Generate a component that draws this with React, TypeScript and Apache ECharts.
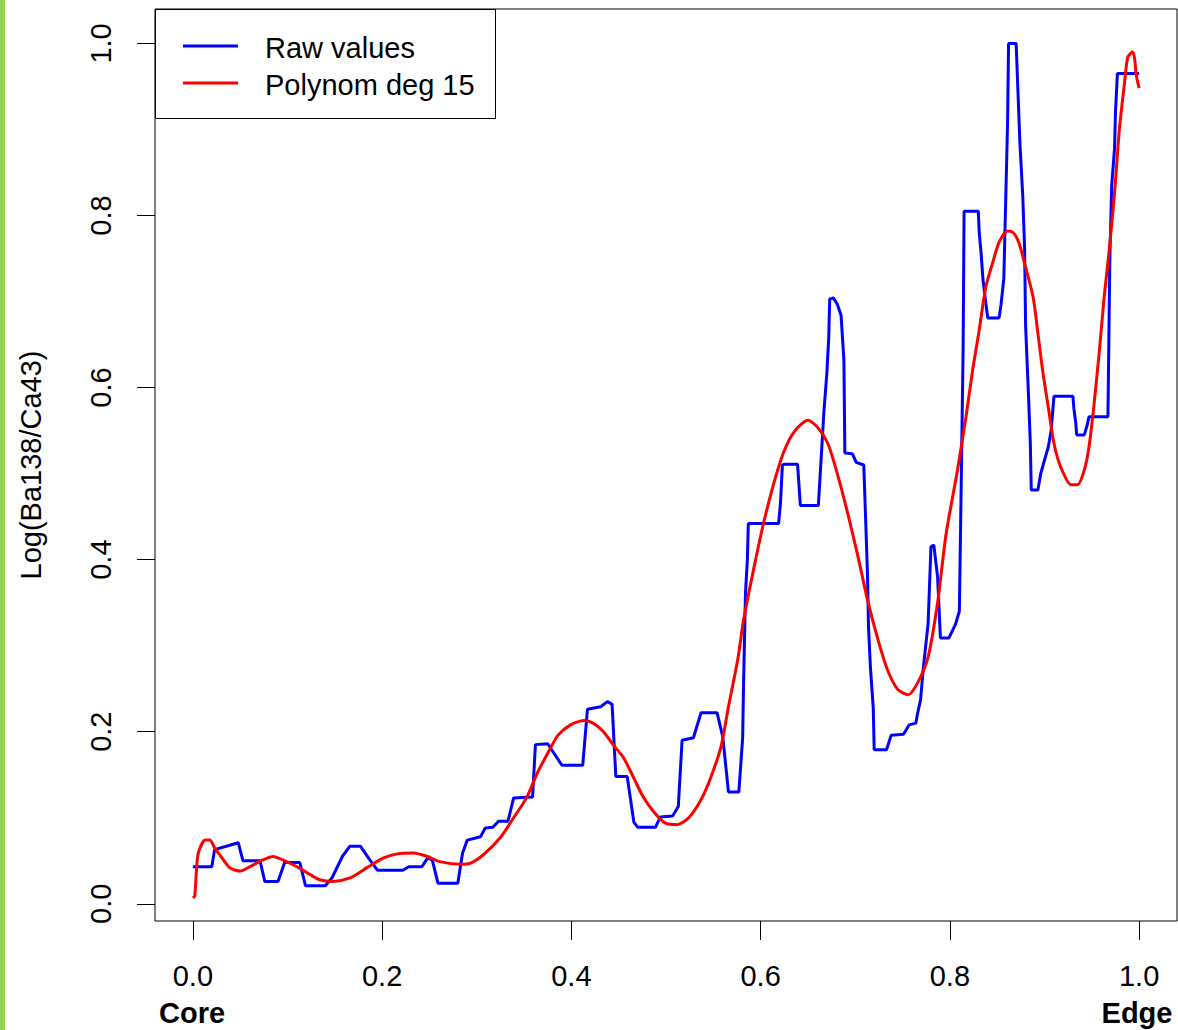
import React, { useEffect, useRef } from 'react';
import * as echarts from 'echarts';

const xTicks = [0, 0.2, 0.4, 0.6, 0.8, 1.0];
const yTicks = [0, 0.2, 0.4, 0.6, 0.8, 1.0];
const seriesNames = ['Raw values', 'Polynom deg 15'];
const xEndLabels = ['Core', 'Edge'];
const yAxisTitle = 'Log(Ba138/Ca43)';

const rawX = [0.000,0.020,0.023,0.039,0.048,0.053,0.071,0.076,0.090,0.097,0.113,0.119,0.140,0.147,0.158,0.166,0.177,0.187,0.195,0.222,0.228,0.242,0.248,0.253,0.259,0.280,0.285,0.290,0.304,0.309,0.317,0.323,0.333,0.339,0.359,0.362,0.375,0.390,0.412,0.417,0.431,0.438,0.443,0.447,0.459,0.466,0.470,0.489,0.494,0.507,0.513,0.517,0.529,0.537,0.554,0.560,0.566,0.577,0.581,0.582,0.584,0.586,0.587,0.619,0.621,0.623,0.626,0.639,0.642,0.661,0.663,0.667,0.670,0.672,0.673,0.677,0.681,0.685,0.688,0.689,0.697,0.701,0.709,0.711,0.713,0.714,0.716,0.719,0.720,0.733,0.738,0.751,0.757,0.764,0.766,0.769,0.772,0.777,0.780,0.783,0.787,0.790,0.799,0.806,0.810,0.812,0.814,0.815,0.830,0.831,0.833,0.835,0.838,0.840,0.852,0.854,0.857,0.859,0.861,0.862,0.870,0.872,0.874,0.877,0.879,0.880,0.883,0.885,0.886,0.893,0.896,0.899,0.904,0.907,0.910,0.930,0.931,0.933,0.934,0.942,0.945,0.947,0.967,0.968,0.969,0.971,0.974,0.975,0.977,1.000];
const rawY = [0.043,0.043,0.063,0.068,0.071,0.050,0.050,0.026,0.026,0.048,0.048,0.021,0.021,0.030,0.055,0.067,0.067,0.051,0.039,0.039,0.043,0.043,0.053,0.051,0.024,0.024,0.059,0.074,0.078,0.088,0.089,0.096,0.096,0.123,0.124,0.185,0.186,0.161,0.161,0.226,0.229,0.235,0.232,0.148,0.148,0.095,0.089,0.089,0.101,0.102,0.113,0.190,0.193,0.222,0.222,0.194,0.130,0.130,0.193,0.257,0.361,0.400,0.442,0.442,0.466,0.510,0.511,0.511,0.463,0.463,0.500,0.574,0.617,0.659,0.703,0.704,0.697,0.684,0.632,0.524,0.523,0.513,0.510,0.446,0.380,0.322,0.275,0.228,0.179,0.179,0.196,0.197,0.208,0.210,0.222,0.237,0.275,0.326,0.415,0.417,0.380,0.309,0.309,0.325,0.340,0.490,0.647,0.805,0.805,0.780,0.756,0.725,0.698,0.681,0.681,0.696,0.727,0.818,0.910,1.000,1.000,0.942,0.884,0.823,0.760,0.672,0.593,0.535,0.481,0.481,0.500,0.512,0.531,0.550,0.590,0.590,0.576,0.559,0.545,0.545,0.556,0.566,0.566,0.655,0.748,0.835,0.878,0.920,0.965,0.965];

const polyX = [0.000,0.002,0.004,0.006,0.013,0.018,0.023,0.031,0.039,0.050,0.060,0.074,0.085,0.095,0.110,0.124,0.134,0.148,0.166,0.184,0.201,0.216,0.233,0.248,0.261,0.283,0.293,0.307,0.325,0.339,0.353,0.364,0.375,0.386,0.399,0.413,0.423,0.434,0.444,0.455,0.466,0.476,0.487,0.499,0.512,0.524,0.537,0.547,0.558,0.566,0.576,0.582,0.593,0.603,0.614,0.624,0.635,0.650,0.660,0.671,0.681,0.692,0.703,0.713,0.724,0.734,0.745,0.756,0.766,0.777,0.787,0.796,0.808,0.817,0.824,0.831,0.838,0.846,0.852,0.861,0.867,0.873,0.880,0.888,0.893,0.898,0.904,0.910,0.917,0.928,0.935,0.942,0.947,0.952,0.958,0.963,0.968,0.974,0.979,0.984,0.988,0.993,0.995,0.997,1.000];
const polyY = [0.007,0.009,0.043,0.060,0.074,0.074,0.065,0.053,0.042,0.038,0.043,0.051,0.055,0.051,0.043,0.034,0.028,0.026,0.030,0.042,0.053,0.058,0.059,0.055,0.049,0.046,0.047,0.057,0.077,0.100,0.124,0.152,0.175,0.196,0.208,0.213,0.210,0.200,0.185,0.170,0.146,0.124,0.107,0.094,0.092,0.100,0.121,0.146,0.182,0.229,0.285,0.330,0.391,0.442,0.489,0.524,0.548,0.562,0.554,0.535,0.500,0.454,0.403,0.353,0.307,0.272,0.249,0.243,0.257,0.287,0.350,0.430,0.504,0.566,0.620,0.667,0.717,0.748,0.769,0.782,0.780,0.768,0.740,0.705,0.663,0.620,0.577,0.535,0.508,0.487,0.487,0.504,0.531,0.577,0.643,0.705,0.756,0.826,0.899,0.949,0.984,0.990,0.984,0.963,0.948];

const FONT = '"Liberation Sans", Arial, sans-serif';

export default function App() {
  const ref = useRef<HTMLDivElement>(null);
  useEffect(() => {
    const chart = echarts.init(ref.current as HTMLDivElement, null, { renderer: 'svg' });
    const rawData = rawX.map((x, i) => [x, rawY[i]]);
    const polyData = polyX.map((x, i) => [x, polyY[i]]);
    chart.setOption({
      animation: false,
      backgroundColor: '#ffffff',
      grid: {
        left: 155, top: 9, width: 1022, height: 912,
        show: true, borderColor: '#000', borderWidth: 1, backgroundColor: 'transparent',
        outerBoundsMode: 'none', containLabel: false,
      },
      xAxis: {
        type: 'value', min: -0.04, max: 1.04,
        axisLine: { show: false, onZero: false },
        splitLine: { show: false },
        axisTick: { show: true, customValues: xTicks, length: 19, lineStyle: { color: '#000', width: 1 } },
        axisLabel: {
          customValues: xTicks, formatter: (v: number) => v.toFixed(1),
          fontSize: 29, color: '#000', margin: 40, fontFamily: FONT,
        },
      },
      yAxis: {
        type: 'value', min: -0.02, max: 1.04,
        name: yAxisTitle, nameLocation: 'middle', nameRotate: 90, nameGap: 110,
        nameTextStyle: { fontSize: 29, color: '#000', fontFamily: FONT },
        axisLine: { show: false, onZero: false },
        splitLine: { show: false },
        axisTick: { show: true, customValues: yTicks, length: 18, lineStyle: { color: '#000', width: 1 } },
        axisLabel: {
          customValues: yTicks, formatter: (v: number) => v.toFixed(1), rotate: 90,
          fontSize: 29, color: '#000', margin: 40, fontFamily: FONT,
        },
      },
      series: [
        {
          name: seriesNames[0], type: 'line', data: rawData, showSymbol: false, symbol: 'none',
          lineStyle: { color: '#0000ff', width: 3 }, itemStyle: { color: '#0000ff' }, z: 2,
        },
        {
          name: seriesNames[1], type: 'line', data: polyData, showSymbol: false, symbol: 'none', smooth: 0.25,
          lineStyle: { color: '#ff0000', width: 3 }, itemStyle: { color: '#ff0000' }, z: 3,
        },
      ],
      graphic: [
        { type: 'rect', shape: { x: 0, y: 0, width: 5, height: 1030 }, style: { fill: '#92d050' }, z: 10 },
        { type: 'rect', shape: { x: 155.5, y: 9.5, width: 340, height: 109 }, style: { fill: '#fff', stroke: '#000', lineWidth: 1 }, z: 10 },
        { type: 'line', shape: { x1: 183, y1: 46, x2: 238, y2: 46 }, style: { stroke: '#0000ff', lineWidth: 3 }, z: 11 },
        { type: 'line', shape: { x1: 183, y1: 83, x2: 238, y2: 83 }, style: { stroke: '#ff0000', lineWidth: 3 }, z: 11 },
        { type: 'text', x: 265, y: 48, style: { text: seriesNames[0], font: `29px ${FONT}`, fill: '#000', align: 'left', verticalAlign: 'middle', textAlign: 'left', textVerticalAlign: 'middle' }, z: 11 },
        { type: 'text', x: 265, y: 85, style: { text: seriesNames[1], font: `29px ${FONT}`, fill: '#000', align: 'left', verticalAlign: 'middle', textAlign: 'left', textVerticalAlign: 'middle' }, z: 11 },
        { type: 'text', x: 192, y: 1013, style: { text: xEndLabels[0], font: `bold 29px ${FONT}`, fill: '#000', align: 'center', verticalAlign: 'middle', textAlign: 'center', textVerticalAlign: 'middle' }, z: 11 },
        { type: 'text', x: 1137, y: 1013, style: { text: xEndLabels[1], font: `bold 29px ${FONT}`, fill: '#000', align: 'center', verticalAlign: 'middle', textAlign: 'center', textVerticalAlign: 'middle' }, z: 11 },
      ],
    });
    return () => chart.dispose();
  }, []);
  return <div ref={ref} style={{ position: 'fixed', left: 0, top: 0, width: 1178, height: 1030, background: '#fff' }} />;
}
